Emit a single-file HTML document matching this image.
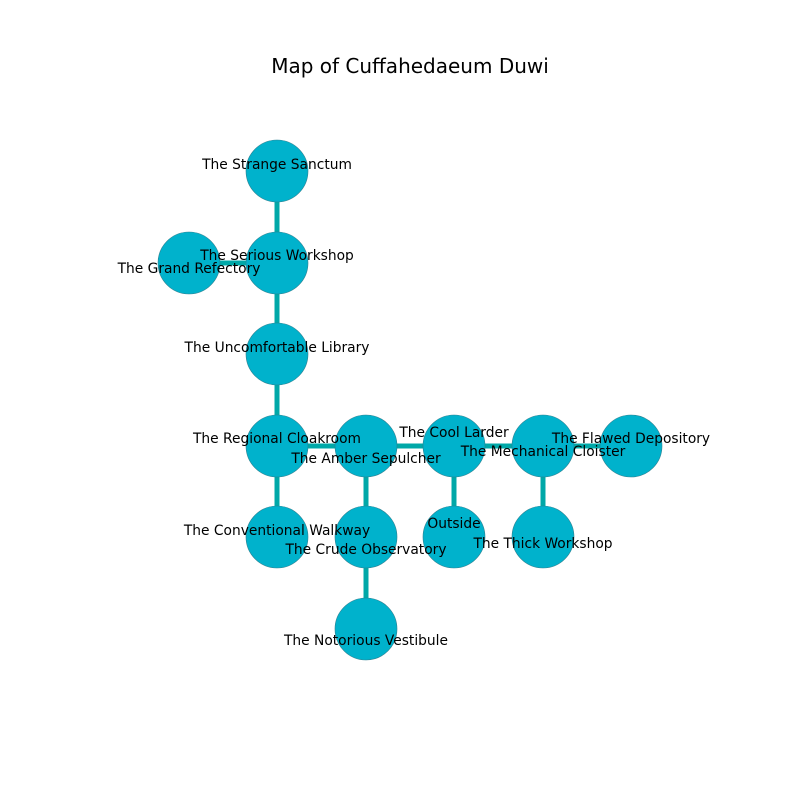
<!DOCTYPE html>
<html><head><style>body{margin:0;background:#fff}svg text{font-family:"DejaVu Sans","Liberation Sans",sans-serif;font-size:13.8px;fill:#000}</style></head>
<body>
<svg width="800" height="800" xmlns="http://www.w3.org/2000/svg">
<rect width="800" height="800" fill="#fff"/>
<text x="410" y="73" text-anchor="middle" style="font-size:20px">Map of Cuffahedaeum Duwi</text>
<g stroke="#00a8a8" stroke-width="5">
<line x1="277" y1="171" x2="277" y2="446"/>
<line x1="189" y1="263" x2="277" y2="263"/>
<line x1="277" y1="446" x2="631" y2="446"/>
<line x1="277" y1="446" x2="277" y2="537"/>
<line x1="366" y1="446" x2="366" y2="629"/>
<line x1="454" y1="446" x2="454" y2="537"/>
<line x1="543" y1="446" x2="543" y2="537"/>
</g>
<g fill="#00b2cc" stroke="#2a7f8f" stroke-width="0.6">
<circle cx="277" cy="171" r="31"/><circle cx="277" cy="263" r="31"/><circle cx="189" cy="263" r="31"/>
<circle cx="277" cy="354" r="31"/><circle cx="277" cy="446" r="31"/><circle cx="366" cy="446" r="31"/>
<circle cx="454" cy="446" r="31"/><circle cx="543" cy="446" r="31"/><circle cx="631" cy="446" r="31"/>
<circle cx="277" cy="537" r="31"/><circle cx="366" cy="537" r="31"/><circle cx="454" cy="537" r="31"/>
<circle cx="543" cy="537" r="31"/><circle cx="366" cy="629" r="31"/>
</g>
<g text-anchor="middle">
<text x="277" y="169">The Strange Sanctum</text>
<text x="277" y="260">The Serious Workshop</text>
<text x="189" y="273">The Grand Refectory</text>
<text x="277" y="352">The Uncomfortable Library</text>
<text x="277" y="443">The Regional Cloakroom</text>
<text x="366" y="463">The Amber Sepulcher</text>
<text x="454" y="437">The Cool Larder</text>
<text x="543" y="456">The Mechanical Cloister</text>
<text x="631" y="443">The Flawed Depository</text>
<text x="277" y="535">The Conventional Walkway</text>
<text x="366" y="554">The Crude Observatory</text>
<text x="454" y="528">Outside</text>
<text x="543" y="548">The Thick Workshop</text>
<text x="366" y="645">The Notorious Vestibule</text>
</g>
</svg>
</body></html>
